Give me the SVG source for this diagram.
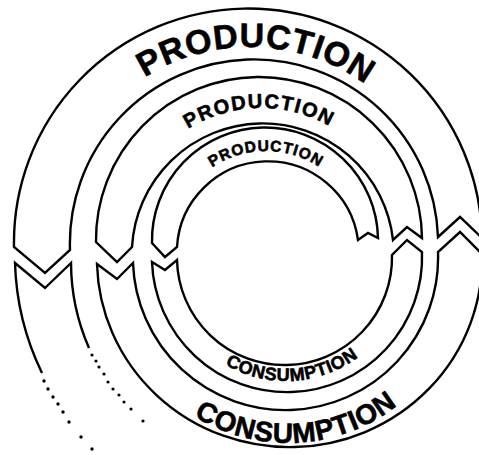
<svg xmlns="http://www.w3.org/2000/svg" width="479" height="455" viewBox="0 0 479 455">
<style>
.band{fill:#fff;stroke:#000;stroke-width:2.4;stroke-linejoin:miter}
.edge{fill:none;stroke:#000;stroke-width:2.4}
.dot{fill:#000}
.lbl{font-family:"Liberation Sans",Arial,sans-serif;font-weight:bold;fill:#000;stroke:#000;stroke-width:0.6}
</style>
<defs>
<path id="tP3" d="M 52 245 A 198 198 0 0 1 448 245"/>
<path id="tP2" d="M 124 245 A 137 137 0 0 1 398 245"/>
<path id="tP1" d="M 169 248 A 97 97 0 0 1 363 248"/>
<path id="tC1" d="M 165 260 A 121 121 0 0 0 407 260"/>
<path id="tC2" d="M 110 265 A 178 178 0 0 0 466 265"/>
</defs>
<rect width="479" height="455" fill="#fff"/>
<g id="connectors">
<g id="band-p1"><path class="band" d="M 378 238 A 113 113 0 0 0 152 243 L 165 257 L 177 247 A 91 91 0 0 1 358 240 L 368 233 Z"/></g>
<g id="band-c1"><path class="band" d="M 152 262 L 165 270 L 177 260 A 107.5 107.5 0 1 0 392 255 L 407 240 L 422 252 A 135 135 0 1 1 152 262 Z"/></g>
<g id="band-p2"><path class="band" d="M 422 238 A 163 163 0 0 0 96 242 L 117 262 L 132 247 A 131 131 0 0 1 393 240 L 407 227 Z"/></g>
<g id="band-c2"><path class="band" d="M 97 264 L 117 279 L 133 263 A 152.5 152.5 0 1 0 438 252 L 460 232 L 482 254 A 192.5 188 0 1 1 97 264 Z"/></g>
<g id="band-p3"><path class="band" d="M 482 238 A 234 234 0 0 0 14 247 L 45 273 L 70 250 A 184 184 0 0 1 438 237 L 460 217 Z"/></g>
<g id="band-c3">
<path class="edge" d="M 42 373 A 270 270 0 0 1 15 263 L 45 288 L 71 263 A 214 214 0 0 0 89 348"/>
<g class="dot">
<circle cx="44" cy="381" r="1.7"/><circle cx="48" cy="389" r="1.7"/><circle cx="53" cy="397" r="1.7"/><circle cx="58" cy="404" r="1.7"/><circle cx="63" cy="412" r="1.7"/><circle cx="69" cy="422" r="1.7"/><circle cx="81" cy="437" r="1.7"/><circle cx="92" cy="449" r="1.7"/>
<circle cx="92" cy="355" r="1.6"/><circle cx="96" cy="361" r="1.6"/><circle cx="99" cy="367" r="1.6"/><circle cx="104" cy="374" r="1.6"/><circle cx="108" cy="382" r="1.6"/><circle cx="113" cy="389" r="1.6"/><circle cx="119" cy="395" r="1.6"/><circle cx="124" cy="402" r="1.6"/><circle cx="131" cy="409" r="1.6"/><circle cx="143" cy="421" r="1.6"/>
</g>
</g>
</g>
<g id="labels">
<text class="lbl" font-size="34" letter-spacing="0.6"><textPath href="#tP3" startOffset="317" text-anchor="middle">PRODUCTION</textPath></text>
<text class="lbl" font-size="20" letter-spacing="1.5"><textPath href="#tP2" startOffset="213" text-anchor="middle">PRODUCTION</textPath></text>
<text class="lbl" font-size="15.5" letter-spacing="1"><textPath href="#tP1" startOffset="152" text-anchor="middle">PRODUCTION</textPath></text>
<text class="lbl" font-size="18" letter-spacing="0.6"><textPath href="#tC1" startOffset="197" text-anchor="middle">CONSUMPTION</textPath></text>
<text class="lbl" font-size="28" letter-spacing="0.7"><textPath href="#tC2" startOffset="289" text-anchor="middle">CONSUMPTION</textPath></text>
</g>
</svg>
